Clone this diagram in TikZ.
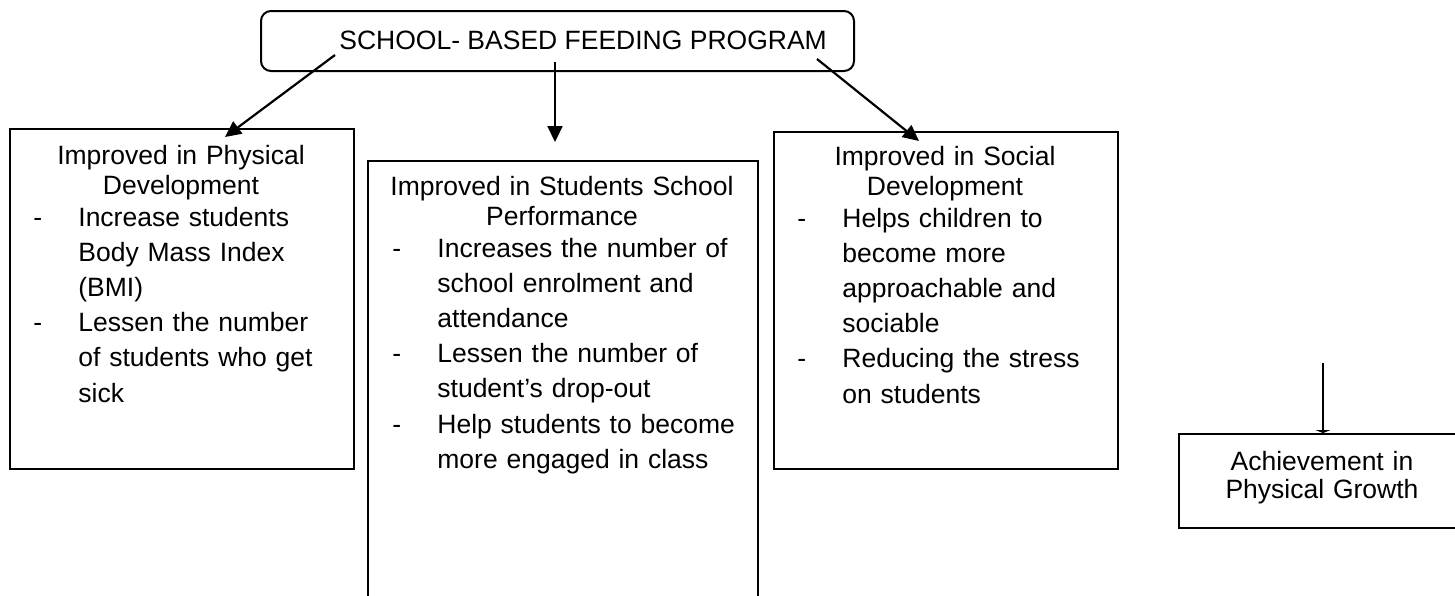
\documentclass[tikz,border=0pt]{standalone}
\usepackage{fontspec}
\setmainfont{Liberation Sans}
\usetikzlibrary{arrows.meta,positioning,calc}

\newcommand{\dashmark}{\makebox[22.5pt][l]{-}}
\newcommand{\gapmark}{\hspace*{22.5pt}}

\begin{document}
\begin{tikzpicture}[
    x=0.5pt, y=-0.5pt,
    panel/.style={rectangle, draw, line width=1pt, anchor=north west, inner sep=0pt},
    heading/.style={anchor=base, inner sep=0pt, text width=170pt, align=center, font=\fontsize{13.25pt}{15.25pt}\selectfont},
    items/.style={anchor=base west, inner sep=0pt, text width=180pt, align=left, font=\fontsize{13.25pt}{17.6pt}\selectfont},
    arrow/.style={-{Triangle[length=8pt,width=7.5pt]}, line width=1.1pt}
]
\clip (0,0) rectangle (1455,595);

% Program box
\node[panel, rounded corners=5pt, minimum width=296.5pt, minimum height=30pt] (feed) at (260,10) {};
\node[anchor=base west, inner sep=0pt, font=\fontsize{13.25pt}{15pt}\selectfont] (feedtext) at (339,49) {SCHOOL- BASED FEEDING PROGRAM};

% Outcome boxes
\node[panel, minimum width=172pt, minimum height=170pt] (phys) at (9,128) {};
\node[panel, minimum width=195pt, minimum height=230pt] (perf) at (367,160) {};
\node[panel, minimum width=172pt, minimum height=168.5pt] (social) at (773,131) {};
\node[panel, minimum width=144pt, minimum height=47pt] (growth) at (1178,433) {};

% Physical development
\node[heading] (physhead) at (181,164) {Improved in Physical\\Development};
\node[items] (physlist) at (33,226) {\dashmark Increase students\\
  \gapmark Body Mass Index\\
  \gapmark (BMI)\\
  \dashmark Lessen the number\\
  \gapmark of students who get\\
  \gapmark sick};

% School performance
\node[heading, text width=190pt] (perfhead) at (562,195) {Improved in Students School\\Performance};
\node[items] (perflist) at (392,257) {\dashmark Increases the number of\\
  \gapmark school enrolment and\\
  \gapmark attendance\\
  \dashmark Lessen the number of\\
  \gapmark student’s drop-out\\
  \dashmark Help students to become\\
  \gapmark more engaged in class};

% Social development
\node[heading] (socialhead) at (945,165) {Improved in Social\\Development};
\node[items] (sociallist) at (797,227) {\dashmark Helps children to\\
  \gapmark become more\\
  \gapmark approachable and\\
  \gapmark sociable\\
  \dashmark Reducing the stress\\
  \gapmark on students};

% Physical growth
\node[heading, text width=140pt, font=\fontsize{13.25pt}{14pt}\selectfont] (growthtext) at (1322,470) {Achievement in\\Physical Growth};

% Arrow ends
\coordinate (physfrom) at (335,55);
\coordinate (physto) at (225,137);
\coordinate (perffrom) at (555,62);
\coordinate (perfto) at (555,142);
\coordinate (socialfrom) at (817,59);
\coordinate (socialto) at (919,141);
\coordinate (growthfrom) at ($(growth.north)+(0,-70)$);

\draw[arrow] (physfrom) -- (physto);
\draw[arrow] (perffrom) -- (perfto);
\draw[arrow] (socialfrom) -- (socialto);
\draw[-{Triangle[length=1.5pt,width=7.5pt]}, line width=1.1pt] (growthfrom) -- (growth.north);

\end{tikzpicture}
\end{document}
